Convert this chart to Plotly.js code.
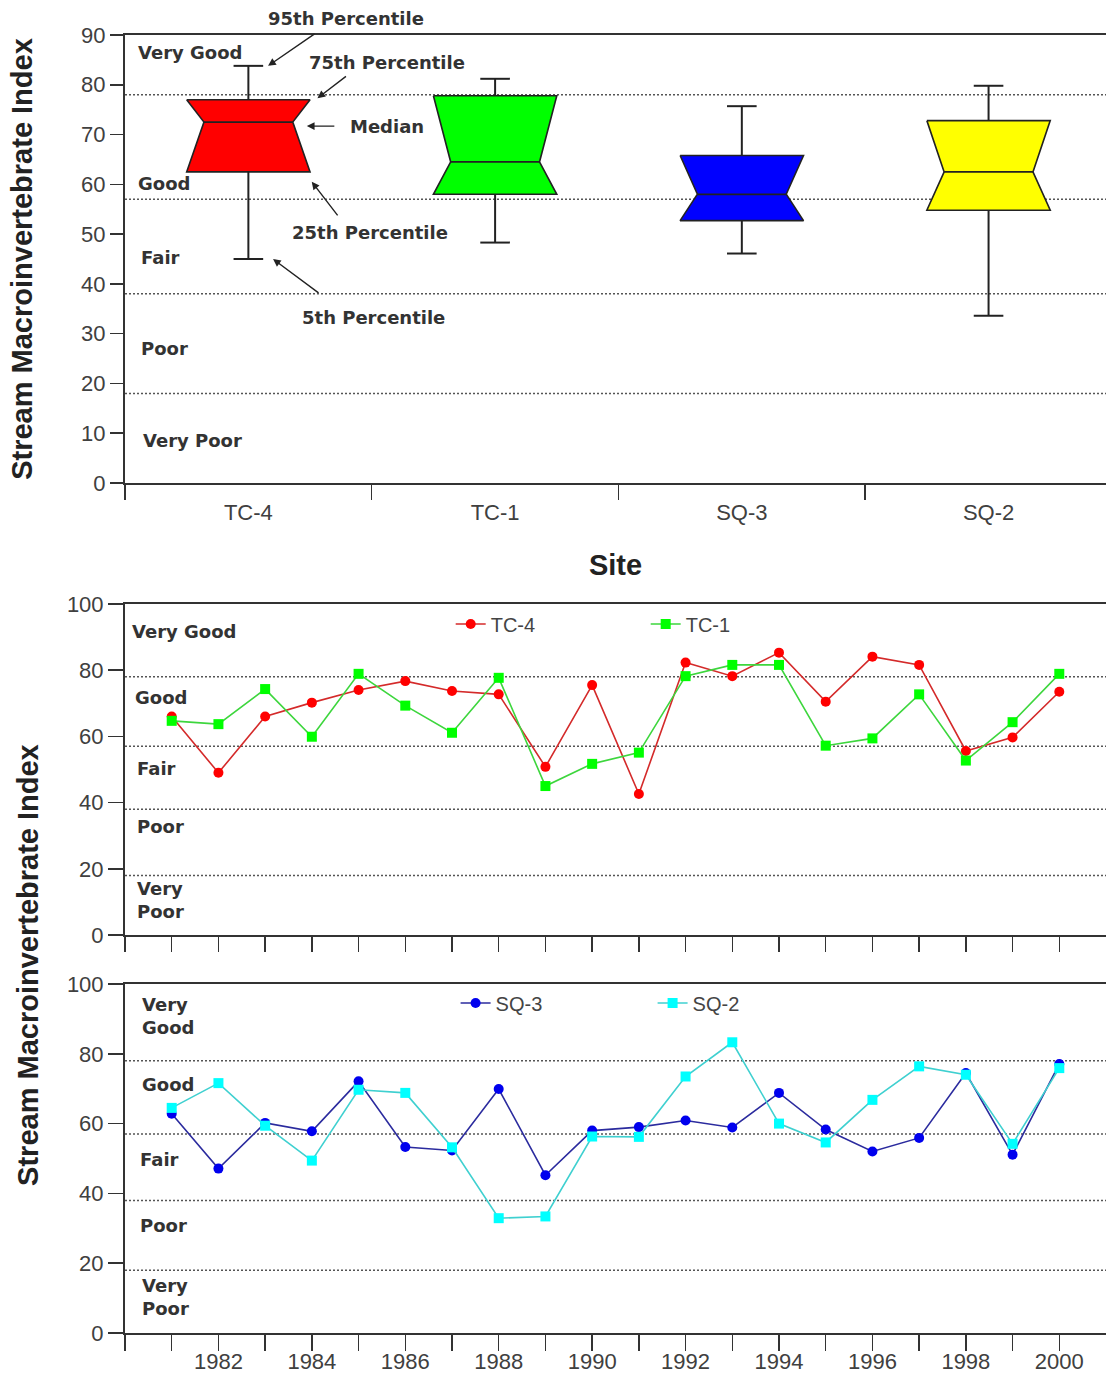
<!DOCTYPE html>
<html>
<head>
<meta charset="utf-8">
<script src="https://cdn.plot.ly/plotly-3.0.1.min.js"></script>
<style>
html,body{margin:0;padding:0;background:#fff;}
#chart{width:1106px;height:1373px;}
</style>
</head>
<body>
<div id="chart"></div>
<script>
// ---------------- Data ----------------
const sites = ['TC-4', 'TC-1', 'SQ-3', 'SQ-2'];
const pct5   = [45.0, 48.3, 46.1, 33.6];
const pct25  = [62.5, 58.0, 52.7, 54.8];
const median = [72.5, 64.5, 58.0, 62.5];
const pct75  = [77.0, 77.8, 65.8, 72.8];
const pct95  = [83.8, 81.2, 75.7, 79.8];
const boxColors = ['#ff0000', '#00ff00', '#0000ff', '#ffff00'];

const years = [1981, 1982, 1983, 1984, 1985, 1986, 1987, 1988, 1989, 1990,
               1991, 1992, 1993, 1994, 1995, 1996, 1997, 1998, 1999, 2000];
const tc4 = [66, 49, 66, 70.2, 74, 76.7, 73.7, 72.7, 50.8, 75.5,
             42.6, 82.3, 78.2, 85.3, 70.5, 84.1, 81.6, 55.6, 59.7, 73.5];
const tc1 = [64.7, 63.7, 74.3, 59.9, 78.9, 69.3, 61.1, 77.7, 45.0, 51.7,
             55.1, 78.2, 81.6, 81.6, 57.2, 59.4, 72.7, 52.7, 64.3, 78.9];
const sq3 = [62.8, 47.1, 60.2, 57.8, 72.1, 53.3, 52.3, 69.9, 45.2, 58.0,
             59.0, 60.9, 58.9, 68.8, 58.3, 52.0, 55.9, 74.5, 51.1, 77.1];
const sq2 = [64.5, 71.6, 59.4, 49.4, 69.7, 68.8, 53.2, 32.9, 33.4, 56.3,
             56.2, 73.5, 83.3, 60.0, 54.6, 66.8, 76.4, 74.0, 54.2, 75.9];

const thresholds = [78, 57, 38, 18];
const ratingLabels = ['Very Good', 'Good', 'Fair', 'Poor', 'Very Poor'];
const percentileLabels = ['95th Percentile', '75th Percentile', 'Median', '25th Percentile', '5th Percentile'];
const yearTickVals = [1980, 1981, 1982, 1983, 1984, 1985, 1986, 1987, 1988, 1989, 1990,
                      1991, 1992, 1993, 1994, 1995, 1996, 1997, 1998, 1999, 2000];
const yearTickText = ['', '', '1982', '', '1984', '', '1986', '', '1988', '', '1990',
                      '', '1992', '', '1994', '', '1996', '', '1998', '', '2000'];
const yTitle = 'Stream Macroinvertebrate Index';
const xTitle = 'Site';

// ---------------- Styles ----------------
const tickFont = {family: 'Liberation Sans, Arial, sans-serif', size: 22, color: '#404040'};
const labelFont = {family: 'DejaVu Sans, Verdana, sans-serif', size: 18, color: '#333', weight: 'bold'};
const titleFont = {family: 'Liberation Sans, Arial, sans-serif', size: 29, color: '#222', weight: 'bold'};
const axisLine = '#333';

const boxHalf = 0.25, notchHalf = 0.18, capHalf = 0.06;

// ---------------- Traces ----------------
const traces = [];

// whiskers
const wx = [], wy = [];
sites.forEach((s, i) => {
  wx.push(i, i, null, i - capHalf, i + capHalf, null, i, i, null, i - capHalf, i + capHalf, null);
  wy.push(pct75[i], pct95[i], null, pct95[i], pct95[i], null, pct25[i], pct5[i], null, pct5[i], pct5[i], null);
});
traces.push({type: 'scatter', mode: 'lines', x: wx, y: wy, xaxis: 'x', yaxis: 'y',
  line: {color: '#222', width: 2}, showlegend: false, hoverinfo: 'skip'});

// notched boxes
sites.forEach((s, i) => {
  traces.push({
    type: 'scatter', mode: 'lines', name: s, xaxis: 'x', yaxis: 'y',
    x: [i - boxHalf, i + boxHalf, i + notchHalf, i + boxHalf, i - boxHalf, i - notchHalf, i - boxHalf],
    y: [pct75[i], pct75[i], median[i], pct25[i], pct25[i], median[i], pct75[i]],
    fill: 'toself', fillcolor: boxColors[i],
    line: {color: '#222', width: 1.6}, showlegend: false,
    hovertemplate: s + '<extra></extra>'
  });
  traces.push({
    type: 'scatter', mode: 'lines', xaxis: 'x', yaxis: 'y',
    x: [i - notchHalf, i + notchHalf], y: [median[i], median[i]],
    line: {color: '#222', width: 1.8}, showlegend: false, hoverinfo: 'skip'
  });
});

// time series
traces.push({type: 'scatter', mode: 'lines+markers', name: 'TC-4', x: years, y: tc4,
  xaxis: 'x2', yaxis: 'y2', legend: 'legend',
  line: {color: '#d42a2a', width: 1.6}, marker: {symbol: 'circle', size: 10, color: '#ff0000'}});
traces.push({type: 'scatter', mode: 'lines+markers', name: 'TC-1', x: years, y: tc1,
  xaxis: 'x2', yaxis: 'y2', legend: 'legend',
  line: {color: '#3dd63d', width: 1.6}, marker: {symbol: 'square', size: 10, color: '#00ff00'}});
traces.push({type: 'scatter', mode: 'lines+markers', name: 'SQ-3', x: years, y: sq3,
  xaxis: 'x3', yaxis: 'y3', legend: 'legend2',
  line: {color: '#2b2b9e', width: 1.6}, marker: {symbol: 'circle', size: 10, color: '#0000ee'}});
traces.push({type: 'scatter', mode: 'lines+markers', name: 'SQ-2', x: years, y: sq2,
  xaxis: 'x3', yaxis: 'y3', legend: 'legend2',
  line: {color: '#3fd0d0', width: 1.6}, marker: {symbol: 'square', size: 10, color: '#00ffff'}});

// ---------------- Layout ----------------
const H = 1373;
const dom = (topPx, botPx) => [1 - botPx / H, 1 - topPx / H];

const baseY = {
  showline: true, linecolor: axisLine, linewidth: 2, mirror: false,
  ticks: 'outside', ticklen: 15, tickwidth: 1.5, tickcolor: axisLine,
  tickfont: tickFont, showgrid: false, zeroline: false, fixedrange: true
};
const baseX = {
  showline: true, linecolor: axisLine, linewidth: 2, mirror: true,
  showgrid: false, zeroline: false, fixedrange: true
};

const shapes = [];
['y', 'y2', 'y3'].forEach(yr => {
  thresholds.forEach(t => {
    shapes.push({type: 'line', xref: 'paper', yref: yr, x0: 0, x1: 1, y0: t, y1: t,
      layer: 'below', line: {color: '#555', width: 1.5, dash: '2px,2px'}});
  });
});

const annotations = [];
function rating(text, xd, y, xref, yref) {
  annotations.push({text: text, xref: xref, yref: yref, x: xd, y: y, xanchor: 'left', yanchor: 'middle',
    showarrow: false, font: labelFont, align: 'left'});
}
// top panel ratings
rating(ratingLabels[0], 0.011, 86.5, 'x domain', 'y');
rating(ratingLabels[1], 0.011, 60.2, 'x domain', 'y');
rating(ratingLabels[2], 0.014, 45.4, 'x domain', 'y');
rating(ratingLabels[3], 0.014, 27.1, 'x domain', 'y');
rating(ratingLabels[4], 0.016, 8.6, 'x domain', 'y');
// middle panel ratings
rating(ratingLabels[0], 0.005, 91.8, 'x2 domain', 'y2');
rating(ratingLabels[1], 0.008, 71.9, 'x2 domain', 'y2');
rating(ratingLabels[2], 0.010, 50.2, 'x2 domain', 'y2');
rating(ratingLabels[3], 0.010, 32.9, 'x2 domain', 'y2');
rating(ratingLabels[4].replace(' ', '<br>'), 0.010, 10.7, 'x2 domain', 'y2');
// bottom panel ratings
rating(ratingLabels[0].replace(' ', '<br>'), 0.015, 90.9, 'x3 domain', 'y3');
rating(ratingLabels[1], 0.015, 71.1, 'x3 domain', 'y3');
rating(ratingLabels[2], 0.013, 49.7, 'x3 domain', 'y3');
rating(ratingLabels[3], 0.013, 30.7, 'x3 domain', 'y3');
rating(ratingLabels[4].replace(' ', '<br>'), 0.015, 10.3, 'x3 domain', 'y3');

// percentile explanation (arrows point at TC-4 box)
const arrowStyle = {showarrow: true, arrowhead: 2, arrowsize: 1.1, arrowwidth: 1.4, arrowcolor: '#222',
  xref: 'x', yref: 'y', text: ''};
annotations.push(Object.assign({}, arrowStyle, {x: 0.08, y: pct95[0], ax: 48, ay: -33}));
annotations.push(Object.assign({}, arrowStyle, {x: 0.28, y: pct75[0] + 0.3, ax: 30, ay: -23}));
annotations.push(Object.assign({}, arrowStyle, {x: 0.237, y: median[0] - 0.8, ax: 29, ay: 0}));
annotations.push(Object.assign({}, arrowStyle, {x: 0.257, y: pct25[0] - 2, ax: 27, ay: 35}));
annotations.push(Object.assign({}, arrowStyle, {x: 0.10, y: pct5[0], ax: 47, ay: 35}));
const ptext = (t, x, y, xanchor, yref) => annotations.push({text: t, x: x, y: y, xref: 'x', yref: yref || 'y',
  showarrow: false, xanchor: xanchor || 'center', yanchor: 'middle', font: labelFont});
ptext(percentileLabels[0], 0.395, 1 - 18 / H, 'center', 'paper');
ptext(percentileLabels[1], 0.561, 84.5);
ptext(percentileLabels[2], 0.403, 71.7, 'left');
ptext(percentileLabels[3], 0.492, 50.4);
ptext(percentileLabels[4], 0.508, 33.3);

// shared y title for lower two panels
annotations.push({text: yTitle, xref: 'paper', yref: 'paper', x: -0.099, y: 1 - 965 / H,
  xanchor: 'center', yanchor: 'middle', textangle: -90, showarrow: false, font: titleFont});

const layout = {
  width: 1106, height: 1373,
  margin: {l: 125, r: 0, t: 0, b: 0},
  paper_bgcolor: '#ffffff', plot_bgcolor: '#ffffff',
  font: tickFont,
  hovermode: false,
  xaxis: Object.assign({}, baseX, {
    domain: [0, 1], anchor: 'y', range: [-0.5, 3.476],
    tickmode: 'array', tickvals: [0, 1, 2, 3], ticktext: sites,
    ticks: 'outside', ticklen: 15, tickcolor: 'rgba(0,0,0,0)', tickfont: tickFont, ticklabelstandoff: -6,
    minor: {tickmode: 'array', tickvals: [-0.5, 0.5, 1.5, 2.5], ticks: 'outside', ticklen: 15,
            tickwidth: 1.5, tickcolor: axisLine, showgrid: false},
    title: {text: xTitle, font: titleFont, standoff: 30}
  }),
  yaxis: Object.assign({}, baseY, {
    domain: dom(35, 483), anchor: 'x', range: [0, 90], tickmode: 'linear', tick0: 0, dtick: 10, ticklen: 13,
    title: {text: yTitle, font: titleFont, standoff: 40}
  }),
  xaxis2: Object.assign({}, baseX, {
    domain: [0, 1], anchor: 'y2', range: [1980, 2001],
    tickmode: 'array', tickvals: yearTickVals, ticktext: yearTickVals.map(() => ''),
    ticks: 'outside', ticklen: 15, tickwidth: 1.5, tickcolor: axisLine, showticklabels: false
  }),
  yaxis2: Object.assign({}, baseY, {
    domain: dom(604, 935), anchor: 'x2', range: [0, 100], tickmode: 'linear', tick0: 0, dtick: 20
  }),
  xaxis3: Object.assign({}, baseX, {
    domain: [0, 1], anchor: 'y3', range: [1980, 2001],
    tickmode: 'array', tickvals: yearTickVals, ticktext: yearTickText,
    ticks: 'outside', ticklen: 16, tickwidth: 1.5, tickcolor: axisLine, tickfont: tickFont,
    ticklabelstandoff: -8
  }),
  yaxis3: Object.assign({}, baseY, {
    domain: dom(984, 1333), anchor: 'x3', range: [0, 100], tickmode: 'linear', tick0: 0, dtick: 20
  }),
  legend: {orientation: 'h', x: 0.332, xanchor: 'left', y: 1 - 624 / H, yanchor: 'middle',
    font: {family: 'Liberation Sans, Arial, sans-serif', size: 20, color: '#444'},
    bgcolor: 'rgba(0,0,0,0)', entrywidth: 150, entrywidthmode: 'pixels'},
  legend2: {orientation: 'h', x: 0.337, xanchor: 'left', y: 1 - 1003 / H, yanchor: 'middle',
    font: {family: 'Liberation Sans, Arial, sans-serif', size: 20, color: '#444'},
    bgcolor: 'rgba(0,0,0,0)', entrywidth: 152, entrywidthmode: 'pixels'},
  shapes: shapes,
  annotations: annotations
};

Plotly.newPlot('chart', traces, layout, {displayModeBar: false, staticPlot: true});
</script>
</body>
</html>
